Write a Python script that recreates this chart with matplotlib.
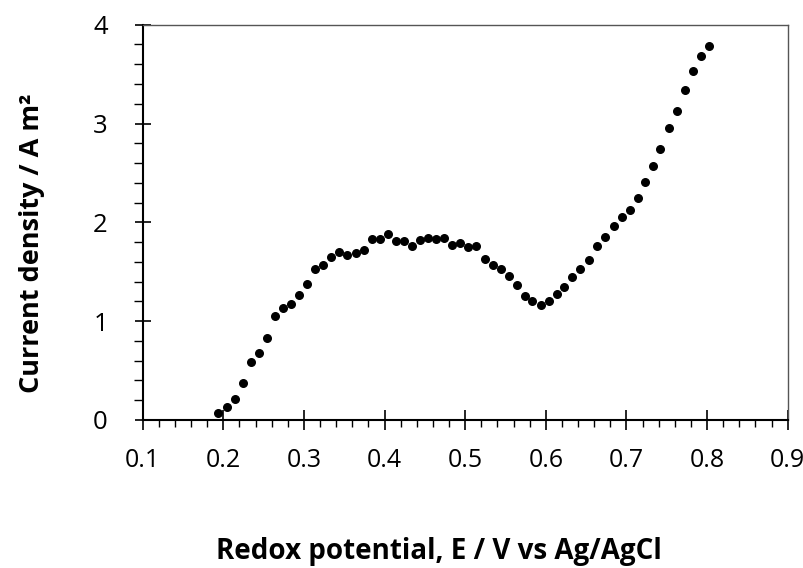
import numpy as np
import matplotlib.pyplot as plt
from matplotlib.ticker import MultipleLocator

# Polarisation data: redox potential (V vs Ag/AgCl) and current density (A m-2)
potential = [0.194, 0.204, 0.214, 0.224, 0.234, 0.244, 0.254, 0.264, 0.274, 0.284,
             0.294, 0.304, 0.314, 0.324, 0.334, 0.344, 0.354, 0.364, 0.374, 0.384,
             0.394, 0.404, 0.414, 0.424, 0.434, 0.444, 0.454, 0.464, 0.474, 0.484,
             0.494, 0.504, 0.514, 0.524, 0.534, 0.544, 0.554, 0.564, 0.574, 0.583,
             0.594, 0.604, 0.614, 0.623, 0.633, 0.643, 0.654, 0.663, 0.673, 0.684,
             0.694, 0.704, 0.714, 0.723, 0.733, 0.742, 0.753, 0.763, 0.773, 0.783,
             0.793, 0.803]
current = [0.068, 0.128, 0.213, 0.371, 0.590, 0.675, 0.830, 1.053, 1.134, 1.174,
           1.268, 1.373, 1.531, 1.572, 1.653, 1.697, 1.673, 1.687, 1.724, 1.835,
           1.835, 1.880, 1.815, 1.815, 1.758, 1.819, 1.845, 1.835, 1.845, 1.771,
           1.788, 1.748, 1.764, 1.633, 1.569, 1.531, 1.461, 1.363, 1.255, 1.201,
           1.164, 1.204, 1.275, 1.349, 1.444, 1.531, 1.619, 1.758, 1.855, 1.964,
           2.058, 2.126, 2.244, 2.412, 2.568, 2.740, 2.952, 3.124, 3.340, 3.535,
           3.687, 3.789]

plt.rcParams['font.family'] = ['Open Sans', 'DejaVu Sans']

fig = plt.figure(figsize=(8.04, 5.68), dpi=100)
ax = fig.add_axes([0.1775, 0.2606, 0.8022, 0.6959])

ax.scatter(potential, current, s=30, color='black', zorder=3, clip_on=False)

ax.set_xlim(0.1, 0.9)
ax.set_ylim(0, 4)
ax.xaxis.set_major_locator(MultipleLocator(0.1))
ax.xaxis.set_minor_locator(MultipleLocator(0.02))
ax.yaxis.set_major_locator(MultipleLocator(1))
ax.yaxis.set_minor_locator(MultipleLocator(0.2))
ax.xaxis.set_major_formatter(plt.FuncFormatter(lambda v, p: f"{v:.1f}"))

ax.tick_params(axis='x', which='major', direction='inout', length=14.4, width=1.2,
               labelsize=18, pad=13)
ax.tick_params(axis='x', which='minor', direction='out', length=5, width=1.0)
ax.tick_params(axis='y', which='major', direction='inout', length=12.2, width=1.2,
               labelsize=18.5, pad=19)
ax.tick_params(axis='y', which='minor', direction='out', length=6.5, width=1.0)

for side in ('left', 'bottom'):
    ax.spines[side].set_color('black')
    ax.spines[side].set_linewidth(1.5)
for side in ('top', 'right'):
    ax.spines[side].set_color('#555555')
    ax.spines[side].set_linewidth(1.0)

ax.set_xlabel('Redox potential, E / V vs Ag/AgCl', fontsize=20, fontweight='bold',
              va='baseline')
ax.xaxis.set_label_coords(0.459, -0.352)
ax.set_ylabel('Current density / A m²', fontsize=19.5, fontweight='bold',
              va='baseline', ha='center', rotation_mode='anchor')
ax.yaxis.set_label_coords(-0.161, 0.448)

fig.savefig('out.png', dpi=100)
